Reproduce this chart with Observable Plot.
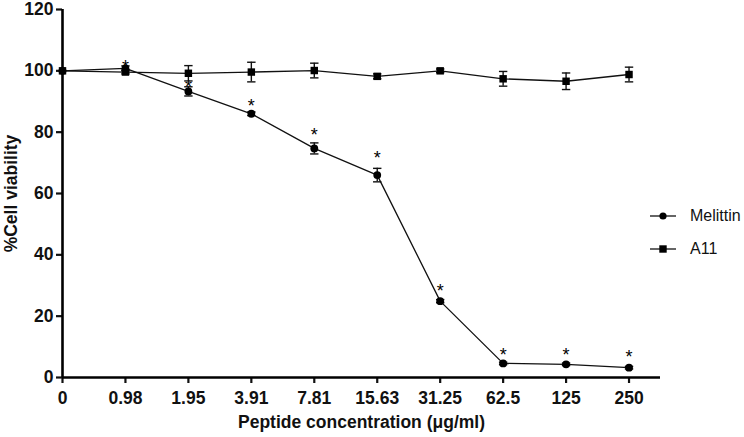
<!DOCTYPE html>
<html>
<head>
<meta charset="utf-8">
<script src="https://cdn.jsdelivr.net/npm/d3@7"></script>
<script src="https://cdn.jsdelivr.net/npm/@observablehq/plot@0.6"></script>
<style>
  html, body { margin: 0; padding: 0; background: #fff; }
  #wrap { position: relative; width: 744px; height: 437px; }
  #chart svg { overflow: visible; }
  #chart svg g[aria-label$="axis tick label"] { font-weight: bold; font-size: 17.5px; }
  #chart svg g[aria-label$="axis label"] { font-weight: bold; font-size: 17.5px; }
  #legend { position: absolute; left: 650px; top: 199px; font-family: "Liberation Sans", Arial, sans-serif; font-size: 16px; color: #111; }
  .row { display: flex; align-items: center; height: 33px; }
  .row svg { margin-right: 14px; }
</style>
</head>
<body>
<div id="wrap"><div id="chart"></div><div id="legend"></div></div>
<script>
const concLabels = ["0", "0.98", "1.95", "3.91", "7.81", "15.63", "31.25", "62.5", "125", "250"];
const melittinMean = [100, 100.8, 93.3, 86.0, 74.7, 66.0, 24.9, 4.6, 4.3, 3.2];
const melittinSD   = [0, 0.8, 1.5, 0.6, 1.8, 2.2, 0.5, 0.4, 0.4, 0.4];
const a11Mean = [100, 99.6, 99.2, 99.6, 100.1, 98.2, 100.0, 97.4, 96.6, 98.8];
const a11SD   = [0, 0.6, 2.5, 3.2, 2.4, 0.8, 0.6, 2.4, 2.7, 2.4];
const starLevel = [null, 102.5, 95.8, 89.8, 80.4, 72.8, 29.3, 8.5, 8.5, 7.8];
const yTicks = [0, 20, 40, 60, 80, 100, 120];
const seriesNames = ["Melittin", "A11"];

const mel = concLabels.map((c, i) => ({i, m: melittinMean[i], sd: melittinSD[i], star: starLevel[i]}));
const a11 = concLabels.map((c, i) => ({i, m: a11Mean[i], sd: a11SD[i]}));
const stars = mel.filter(d => d.star != null);

const cap = {draw(ctx, size) { const r = 4.2; ctx.moveTo(-r, 0); ctx.lineTo(r, 0); }};

function errMarks(data) {
  const d = data.filter(e => e.sd > 0);
  return [
    Plot.ruleX(d, {x: "i", y1: e => e.m - e.sd, y2: e => e.m + e.sd, stroke: "#111", strokeWidth: 1.4}),
    Plot.dot(d, {x: "i", y: e => e.m - e.sd, symbol: cap, r: 4, stroke: "#111", strokeWidth: 1.4, fill: "none"}),
    Plot.dot(d, {x: "i", y: e => e.m + e.sd, symbol: cap, r: 4, stroke: "#111", strokeWidth: 1.4, fill: "none"})
  ];
}

const chart = Plot.plot({
  width: 744, height: 437,
  marginLeft: 62, marginRight: 84, marginTop: 9, marginBottom: 60,
  style: {fontFamily: "'Liberation Sans', Arial, sans-serif", background: "#fff", color: "#111"},
  x: {domain: [0, 9.5]},
  y: {domain: [0, 120]},
  marks: [
    Plot.axisY({ticks: yTicks, tickSize: 6, tickPadding: 3, strokeWidth: 2.2,
      label: "%Cell viability", labelAnchor: "center", labelArrow: "none", labelOffset: 58}),
    Plot.axisX({ticks: d3.range(concLabels.length), tickFormat: i => concLabels[i], tickSize: 6, tickPadding: 8,
      strokeWidth: 2.2,
      label: "Peptide concentration (μg/ml)", labelAnchor: "center", labelArrow: "none", labelOffset: 50}),
    Plot.lineY(a11, {x: "i", y: "m", stroke: "#111", strokeWidth: 1.3}),
    Plot.lineY(mel, {x: "i", y: "m", stroke: "#111", strokeWidth: 1.3}),
    ...errMarks(a11),
    ...errMarks(mel),
    Plot.dot(a11, {x: "i", y: "m", symbol: "square", r: 4.2, fill: "#000", stroke: "none"}),
    Plot.dot(mel, {x: "i", y: "m", symbol: "circle", r: 3.9, fill: "#000", stroke: "none"}),
    Plot.text(stars, {x: "i", y: "star", text: () => "*", fontSize: 18, lineAnchor: "middle", dy: 4, fill: "#000"}),
    Plot.ruleX([0], {strokeWidth: 2.6, stroke: "#000"}),
    Plot.ruleY([0], {strokeWidth: 2.6, stroke: "#000"})
  ]
});
document.getElementById("chart").appendChild(chart);

const legend = document.getElementById("legend");
seriesNames.forEach((name, k) => {
  const row = document.createElement("div");
  row.className = "row";
  const s = k === 0
    ? '<circle cx="13" cy="6" r="3.6" fill="#000"/>'
    : '<rect x="9.3" y="2.3" width="7.4" height="7.4" fill="#000"/>';
  row.innerHTML = `<svg width="26" height="12"><line x1="0" y1="6" x2="26" y2="6" stroke="#111" stroke-width="1.3"/>${s}</svg><span>${name}</span>`;
  legend.appendChild(row);
});
</script>
</body>
</html>
